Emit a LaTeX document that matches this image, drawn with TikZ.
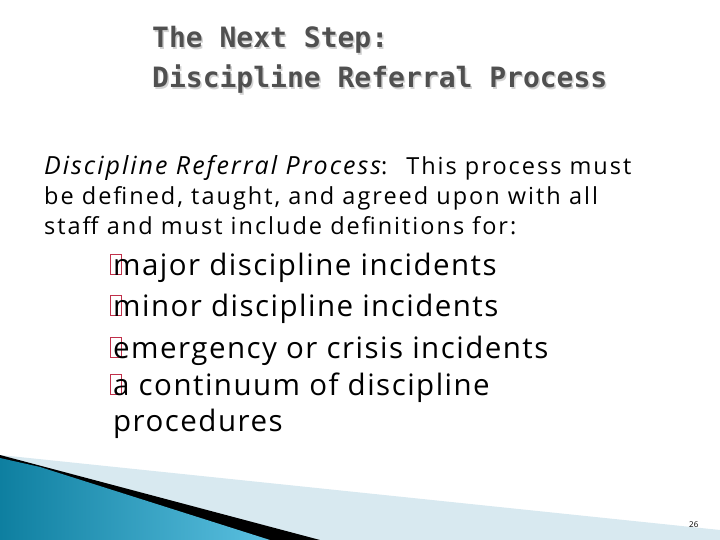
\documentclass[tikz,border=0pt]{standalone}
\usepackage{fontspec}
\setmainfont{Open Sans}
\newfontfamily\parfont[LetterSpace=8.5]{Open Sans}
\newfontfamily\itfont[LetterSpace=8]{Open Sans Italic}
\newfontfamily\bulfont[LetterSpace=5]{Open Sans}
\newfontfamily\titlefont{DejaVu Sans Mono}
\definecolor{titlegrey}{HTML}{505050}
\definecolor{teal1}{HTML}{0E7FA0}
\definecolor{teal2}{HTML}{5BC0E0}
\definecolor{pale}{HTML}{D8E9F0}
\definecolor{bulred}{HTML}{C0304A}
\begin{document}
\begin{tikzpicture}[x=1pt,y=-1pt,
  txt/.style={anchor=base west,inner sep=0pt},
  ttl/.style={txt,font=\titlefont\bfseries\fontsize{28}{28}\selectfont,text=titlegrey},
  bul/.style={txt,font=\bulfont\fontsize{29.5}{29.5}\selectfont},
  par/.style={txt,font=\parfont\fontsize{23.5}{23.5}\selectfont},
  box/.style={draw=bulred,line width=1.2pt,minimum width=11pt,minimum height=20pt,inner sep=0pt,anchor=south west}]
\useasboundingbox (0,0) rectangle (720,540);
\fill[white] (0,0) rectangle (720,540);
% bottom decoration
\fill[pale] (0,455) -- (720,530) -- (720,540) -- (0,540) -- cycle;
\fill[black] (0,455) -- (320,540) -- (0,540) -- cycle;
\shade[left color=teal1,right color=teal2] (0,458) -- (40,467) -- (270,540) -- (0,540) -- cycle;
% title
\node[ttl,text=gray!35] at (153.5,49.5) {The Next Step:};
\node[ttl] (t1) at (152,48) {The Next Step:};
\node[ttl,text=gray!35] at (153.5,89.5) {Discipline Referral Process};
\node[ttl] (t2) at (152,88) {Discipline Referral Process};
% paragraph
\node[par] (p1) at (44,175) {{\itfont\fontsize{25}{25}\selectfont Discipline Referral Process}: \ This process must};
\node[par] (p2) at (44,205) {be defined, taught, and agreed upon with all};
\node[par] (p3) at (44,235) {staff and must include definitions for:};
% bullets
\foreach \y/\t [count=\i] in {275/major discipline incidents,316/minor discipline incidents,358/emergency or crisis incidents,395/a continuum of discipline}{
  \node[box] (b\i) at (110,\y) {};
  \node[bul] (l\i) at (113,\y) {\t};
}
\node[bul] (l5) at (113,431) {procedures};
\node[txt,font=\fontsize{8}{8}\selectfont] (pg) at (689,527) {26};
\end{tikzpicture}
\end{document}
